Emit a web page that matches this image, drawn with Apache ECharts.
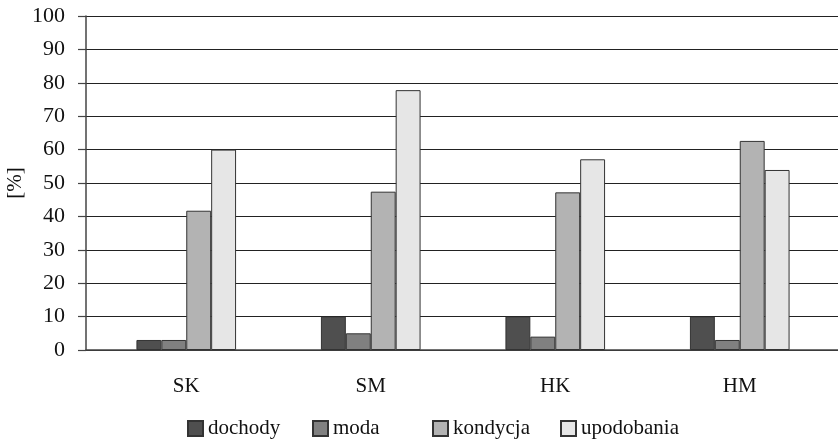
<!DOCTYPE html>
<html>
<head>
<meta charset="utf-8">
<script src="https://cdn.jsdelivr.net/npm/echarts@6/dist/echarts.min.js"></script>
<style>html,body{margin:0;padding:0;background:#fff}#c{width:838px;height:439px}</style>
</head>
<body>
<div id="c"></div>
<script>
const categories = ['SK', 'SM', 'HK', 'HM'];
const dochody = [3, 10, 10, 10];
const moda = [3, 5, 4, 3];
const kondycja = [41.7, 47.4, 47.2, 62.6];
const upodobania = [60, 77.8, 57.1, 53.9];
const seriesNames = ['dochody', 'moda', 'kondycja', 'upodobania'];
const yTicks = [0, 10, 20, 30, 40, 50, 60, 70, 80, 90, 100];

const FONT = '"Liberation Serif", "DejaVu Serif", serif';
const colors = ['#4f4f4f', '#808080', '#b3b3b3', '#e6e6e6'];
const values = [dochody, moda, kondycja, upodobania];

const chart = echarts.init(document.getElementById('c'));
const legendLeft = [187, 312, 432, 560];
chart.setOption({
  animation: false,
  backgroundColor: '#fff',
  grid: [
    {left: 86, right: 0, top: 16, bottom: 89, containLabel: false, outerBoundsMode: 'none'},
    {left: 94, right: 6, top: 16, bottom: 89, containLabel: false, outerBoundsMode: 'none'}
  ],
  xAxis: [
    {type: 'category', gridIndex: 0, data: categories, show: true,
     axisLine: {show: true, lineStyle: {color: '#444', width: 1.5}},
     axisTick: {show: false}, axisLabel: {show: false}, splitLine: {show: false}},
    {type: 'category', gridIndex: 1, data: categories,
     axisLine: {show: false}, axisTick: {show: false},
     axisLabel: {color: '#111', fontFamily: FONT, fontSize: 21, margin: 26}}
  ],
  yAxis: [
    {type: 'value', gridIndex: 0, min: 0, max: 100, interval: 10,
     name: '[%]', nameLocation: 'middle', nameGap: 60, nameRotate: 90, nameMoveOverlap: false,
     nameTextStyle: {color: '#111', fontFamily: FONT, fontSize: 21},
     axisLine: {show: true, lineStyle: {color: '#444', width: 1.5}},
     axisTick: {show: true, length: 8, inside: false, lineStyle: {color: '#444', width: 1.2}},
     axisLabel: {color: '#111', fontFamily: FONT, fontSize: 22, margin: 21,
       formatter: v => yTicks.includes(v) ? String(v) : ''},
     splitLine: {show: true, lineStyle: {color: '#222', width: 1}}},
    {type: 'value', gridIndex: 1, min: 0, max: 100, interval: 10, show: false}
  ],
  legend: seriesNames.map((n, i) => ({
    data: [n], left: legendLeft[i], top: 418, padding: 0, itemWidth: 15, itemHeight: 15, itemGap: 6,
    textStyle: {color: '#111', fontFamily: FONT, fontSize: 21},
    icon: 'rect'
  })),
  series: seriesNames.map((n, i) => ({
    name: n, type: 'bar', xAxisIndex: 1, yAxisIndex: 1,
    data: values[i], barGap: '0%', barCategoryGap: '46%',
    itemStyle: {color: colors[i], borderColor: '#333', borderWidth: 1}
  }))
});
</script>
</body>
</html>
